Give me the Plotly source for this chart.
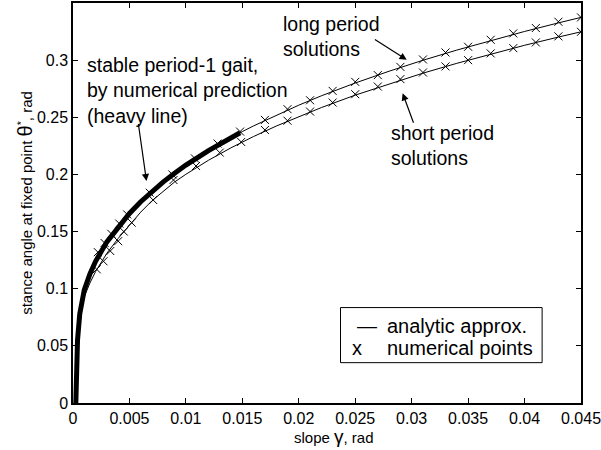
import plotly.graph_objects as go

FONT = "Liberation Sans, Arial, Helvetica, sans-serif"

# ---- data ----
gamma_curve = [0.00025, 0.0003, 0.0004, 0.0006, 0.001, 0.0015, 0.002, 0.003, 0.004, 0.005,
               0.006, 0.007, 0.008, 0.009, 0.010, 0.012, 0.014, 0.015, 0.016, 0.018,
               0.020, 0.022, 0.025, 0.028, 0.031, 0.034, 0.037, 0.040, 0.043, 0.045]
theta_long = [0.0, 0.035, 0.055, 0.078, 0.099, 0.113, 0.124, 0.141, 0.1541, 0.1659,
              0.1761, 0.1852, 0.1935, 0.2011, 0.2082, 0.2209, 0.2322, 0.2375, 0.2425, 0.2519,
              0.2606, 0.2688, 0.2800, 0.2903, 0.2999, 0.3088, 0.3172, 0.3251, 0.3326, 0.3374]
theta_short = [0.0, 0.033, 0.052, 0.074, 0.093, 0.105, 0.115, 0.131, 0.144, 0.156,
               0.167, 0.1770, 0.1855, 0.1934, 0.2001, 0.2124, 0.2233, 0.2284, 0.2332, 0.2423,
               0.2507, 0.2585, 0.2694, 0.2793, 0.2886, 0.2972, 0.3053, 0.3130, 0.3202, 0.3248]

gamma_stable = [0.00025, 0.0003, 0.0004, 0.0006, 0.001, 0.0015, 0.002, 0.003, 0.004, 0.005,
                0.006, 0.007, 0.008, 0.009, 0.010, 0.012, 0.014, 0.0148]
theta_stable = [0.0, 0.035, 0.055, 0.078, 0.099, 0.113, 0.124, 0.141, 0.1541, 0.1659,
                0.1761, 0.1852, 0.1935, 0.2011, 0.2082, 0.2209, 0.2322, 0.2365]

gamma_num_long = [0.0022, 0.0028, 0.0034, 0.0041, 0.0048, 0.0068, 0.0088, 0.0108, 0.0128,
                  0.0148, 0.017, 0.019, 0.021, 0.023, 0.025, 0.027, 0.029, 0.031, 0.033,
                  0.035, 0.037, 0.039, 0.041, 0.043, 0.045]
theta_num_long = [0.132, 0.140, 0.148, 0.157, 0.165, 0.184, 0.200, 0.214, 0.227,
                  0.2375, 0.2477, 0.2571, 0.2649, 0.2731, 0.2810, 0.2869, 0.2941, 0.3006, 0.3067,
                  0.3117, 0.3178, 0.3234, 0.3281, 0.3336, 0.3374]

gamma_num_short = [0.0021, 0.0027, 0.0033, 0.0040, 0.0045, 0.0052, 0.0071, 0.0089, 0.0109,
                   0.013, 0.0149, 0.017, 0.019, 0.021, 0.023, 0.025, 0.027, 0.029, 0.031,
                   0.033, 0.035, 0.037, 0.039, 0.041, 0.043, 0.045]
theta_num_short = [0.117, 0.124, 0.133, 0.1416, 0.150, 0.1578, 0.1776, 0.1951, 0.2074,
                   0.2191, 0.2284, 0.2389, 0.2470, 0.2550, 0.2629, 0.2702, 0.2769, 0.2834, 0.2892,
                   0.2945, 0.3000, 0.3059, 0.3105, 0.3155, 0.3208, 0.3248]

x_ticks = [0, 0.005, 0.01, 0.015, 0.02, 0.025, 0.03, 0.035, 0.04, 0.045]
x_tick_labels = ["0", "0.005", "0.01", "0.015", "0.02", "0.025", "0.03", "0.035", "0.04", "0.045"]
y_ticks = [0, 0.05, 0.1, 0.15, 0.2, 0.25, 0.3]
y_tick_labels = ["0", "0.05", "0.1", "0.15", "0.2", "0.25", "0.3"]

fig = go.Figure()
line_style = dict(color="black", width=1)
fig.add_trace(go.Scatter(x=gamma_curve, y=theta_long, mode="lines", line=line_style, showlegend=False))
fig.add_trace(go.Scatter(x=gamma_curve, y=theta_short, mode="lines", line=line_style, showlegend=False))
fig.add_trace(go.Scatter(x=gamma_stable, y=theta_stable, mode="lines",
                         line=dict(color="black", width=5), showlegend=False))
mk = dict(symbol="x-thin", size=8, color="black", line=dict(width=1, color="black"))
fig.add_trace(go.Scatter(x=gamma_num_long, y=theta_num_long, mode="markers", marker=mk, showlegend=False))
fig.add_trace(go.Scatter(x=gamma_num_short, y=theta_num_short, mode="markers", marker=mk, showlegend=False))

tfont = dict(family=FONT, size=19.5, color="black")
ann = []
ann.append(dict(x=0.00106, y=0.2737, xref="x", yref="y", xanchor="left", yanchor="middle",
                text="stable period-1 gait,<br>by numerical prediction<br>(heavy line)",
                align="left", showarrow=False, font=tfont))
ann.append(dict(x=0.01839, y=0.3206, xref="x", yref="y", xanchor="left", yanchor="middle",
                text="long period<br>solutions", align="left", showarrow=False, font=tfont))
ann.append(dict(x=0.02797, y=0.2249, xref="x", yref="y", xanchor="left", yanchor="middle",
                text="short period<br>solutions", align="left", showarrow=False, font=tfont))
arrow = dict(xref="x", yref="y", axref="x", ayref="y", text="", showarrow=True,
             arrowhead=2, arrowsize=1.2, arrowwidth=1.2, arrowcolor="black")
ann.append(dict(x=0.006508, y=0.1942, ax=0.005774, ay=0.2454, **arrow))
ann.append(dict(x=0.02956, y=0.3003, ax=0.02661, ay=0.3190, **arrow))
ann.append(dict(x=0.02920, y=0.2711, ax=0.03021, ay=0.2439, **arrow))

# legend box
lfont = dict(family=FONT, size=20, color="black")
ann.append(dict(x=0.02604, y=0.0671, xref="x", yref="y", text="\u2014", showarrow=False,
                xanchor="center", yanchor="middle", font=lfont))
ann.append(dict(x=0.0252, y=0.0482, xref="x", yref="y", text="x", showarrow=False,
                xanchor="center", yanchor="middle", font=lfont))
ann.append(dict(x=0.02768, y=0.0671, xref="x", yref="y", text="analytic approx.", showarrow=False,
                xanchor="left", yanchor="middle", font=lfont))
ann.append(dict(x=0.02768, y=0.0482, xref="x", yref="y", text="numerical points", showarrow=False,
                xanchor="left", yanchor="middle", font=lfont))

# x-axis title
ann.append(dict(x=0.514, y=-0.0835, xref="paper", yref="paper", xanchor="center", yanchor="middle",
                text="slope <span style='font-size:19px'>\u03b3</span>, rad", showarrow=False,
                font=dict(family=FONT, size=15, color="black")))

fig.add_shape(type="rect", xref="x", yref="y", x0=0.023696, x1=0.041556, y0=0.0353, y1=0.0835,
              line=dict(color="black", width=1), fillcolor="white", layer="below")

axis_common = dict(showline=True, linecolor="black", linewidth=1.5, mirror="ticks",
                   ticks="inside", ticklen=5, tickwidth=1, tickcolor="black",
                   showgrid=False, zeroline=False, automargin=False,
                   ticklabeloverflow="allow",
                   tickfont=dict(family=FONT, size=16, color="black"))

fig.update_layout(
    width=601, height=450,
    margin=dict(l=73, r=20, t=3, b=47),
    plot_bgcolor="white", paper_bgcolor="white",
    annotations=ann,
    xaxis=dict(range=[0, 0.045], tickvals=x_ticks, ticktext=x_tick_labels, **axis_common),
    yaxis=dict(range=[0, 0.35], tickvals=y_ticks, ticktext=y_tick_labels,
               title=dict(text="stance angle at fixed point <span style='font-size:20px'>\u03b8</span><sup>*</sup>, rad",
                          font=dict(family=FONT, size=15, color="black"), standoff=1),
               **axis_common),
)

fig.write_html("out.html", config={"displayModeBar": False},
               post_script="document.body.style.margin='0';document.body.style.overflow='hidden';")
